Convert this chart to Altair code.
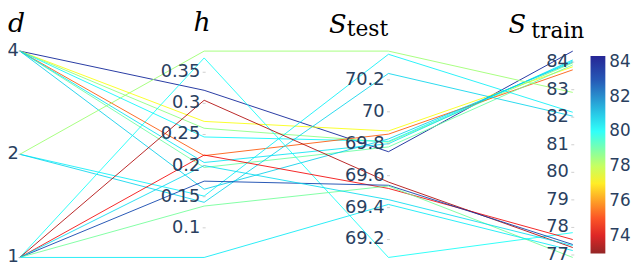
import altair as alt
import pandas as pd

# ---------------- data ----------------
axis_keys = ["d", "h", "S_test", "S_train"]

d_vals = [4, 4, 4, 4, 4, 4, 4, 4, 2, 2, 2, 1, 1, 1, 1, 1, 1, 1]
h_vals = [0.321, 0.271, 0.260, 0.246, 0.216, 0.197, 0.205, 0.162,
          0.384, 0.151, 0.141,
          0.373, 0.305, 0.217, 0.175, 0.135, 0.0524, 0.200]
s_test = [69.75, 69.88, 69.81, 69.815, 69.86, 69.78, 69.80, 69.83,
          70.38, 70.36, 70.24,
          69.088, 69.56, 69.52, 69.54, 69.535, 69.42, 69.45]
s_train = [84.40, 83.83, 83.97, 84.04, 83.72, 83.90, 84.08, 84.00,
           82.90, 82.18, 82.04,
           77.81, 77.27, 77.56, 77.38, 76.91, 77.16, 77.34]
color_vals = [83.8, 77.3, 78.6, 80.2, 75.3, 79.0, 80.5, 80.8,
              78.4, 80.3, 80.7,
              80.0, 73.5, 74.3, 83.0, 78.9, 80.4, 80.6]

tick_d = [1, 2, 4]
tick_d_labels = ["1", "2", "4"]
tick_h = [0.1, 0.15, 0.2, 0.25, 0.3, 0.35]
tick_h_labels = ["0.1", "0.15", "0.2", "0.25", "0.3", "0.35"]
tick_test = [69.2, 69.4, 69.6, 69.8, 70.0, 70.2]
tick_test_labels = ["69.2", "69.4", "69.6", "69.8", "70", "70.2"]
tick_train = [77, 78, 79, 80, 81, 82, 83, 84]
tick_train_labels = ["77", "78", "79", "80", "81", "82", "83", "84"]

cbar_min, cbar_max = 72.97, 84.34
cbar_values = [74, 76, 78, 80, 82, 84]
jet_r_fracs = [0.0, 0.125, 0.375, 0.625, 0.875, 1.0]
jet_r_colors = ["rgb(128,0,0)", "rgb(250,0,0)", "rgb(255,255,0)",
                "rgb(5,255,255)", "rgb(0,60,170)", "rgb(0,0,131)"]

# ---------------- table ----------------
rows = []
for i in range(len(d_vals)):
    for key, arr in zip(axis_keys, [d_vals, h_vals, s_test, s_train]):
        rows.append({"kind": "line", "id": i, "key": key, "value": arr[i],
                     "color": color_vals[i], "label": ""})
for key, vals, labs in [("d", tick_d, tick_d_labels), ("h", tick_h, tick_h_labels),
                        ("S_test", tick_test, tick_test_labels),
                        ("S_train", tick_train, tick_train_labels)]:
    for v, l in zip(vals, labs):
        rows.append({"kind": "tick", "id": -1, "key": key, "value": v,
                     "color": None, "label": l})
df = pd.DataFrame(rows)

cdomain = [cbar_min + f * (cbar_max - cbar_min) for f in jet_r_fracs]

base = alt.Chart(df).transform_calculate(
    v="datum.key === 'd' ? log(datum.value) / LN2 : datum.value"
).transform_calculate(
    vline="datum.kind === 'line' ? datum.v : null",
    ax="indexof(['d','h','S_test','S_train'], datum.key)",
).transform_joinaggregate(
    lo="min(vline)", hi="max(vline)", groupby=["key"]
).transform_calculate(
    norm="(datum.v - datum.lo) / (datum.hi - datum.lo)"
)

X = alt.X("ax:Q", scale=alt.Scale(domain=[0, 3], range=[12, 572], nice=False, zero=False), axis=None)
Y = alt.Y("norm:Q", scale=alt.Scale(domain=[0, 1], range=[251, 42], nice=False, zero=False), axis=None)

FONT = "DejaVu Sans"
FCOL = "#2a3f5f"

lines = base.transform_filter("datum.kind === 'line'").mark_line(
    strokeWidth=1, opacity=0.85
).encode(
    x=X, y=Y, detail="id:N", order="ax:Q",
    color=alt.Color(
        "color:Q",
        scale=alt.Scale(domain=cdomain, range=jet_r_colors, interpolate="rgb"),
        legend=alt.Legend(
            orient="none", legendX=590, legendY=47, direction="vertical",
            gradientLength=200, gradientThickness=15, title=None,
            values=cbar_values, labelFontSize=17, labelFont=FONT,
            labelColor=FCOL, labelOffset=4, gradientStrokeWidth=0, padding=0,
        ),
    ),
)

ticks = base.transform_filter("datum.kind === 'tick'")
tick_marks = ticks.mark_tick(orient="horizontal", size=3, thickness=1, color="#bbbbbb").encode(x=X, y=Y)
tick_labels = ticks.transform_filter("datum.key !== 'd'").mark_text(
    align="right", baseline="middle", dx=-4, font=FONT, fontSize=18, color=FCOL
).encode(x=X, y=Y, text="label:N")
tick_labels_d = ticks.transform_filter("datum.key === 'd'").mark_text(
    align="right", baseline="middle", dx=-1, font=FONT, fontSize=18, color=FCOL
).encode(x=X, y=Y, text="label:N")


def txt(s, x, y, size, font="DejaVu Serif", italic=True):
    return alt.Chart(pd.DataFrame({"t": [s]})).mark_text(
        font=font, fontStyle="italic" if italic else "normal",
        fontSize=size, align="left", baseline="alphabetic", color="black"
    ).encode(x=alt.value(x), y=alt.value(y), text="t:N")


titles = [
    txt("d", 0, 23, 27),
    txt("h", 188, 22, 27),
    txt("S", 325, 24, 26),
    txt("test", 343, 27, 22, italic=False),
    txt("S", 507, 24, 26),
    txt("train", 530, 29, 22, italic=False),
]

chart = alt.layer(lines, tick_marks, tick_labels, tick_labels_d, *titles).properties(
    width=632, height=257, padding=0, autosize=alt.AutoSizeParams(type="none")
).configure_view(stroke=None)

chart.save("out.html", embed_options={"renderer": "svg", "actions": False})
